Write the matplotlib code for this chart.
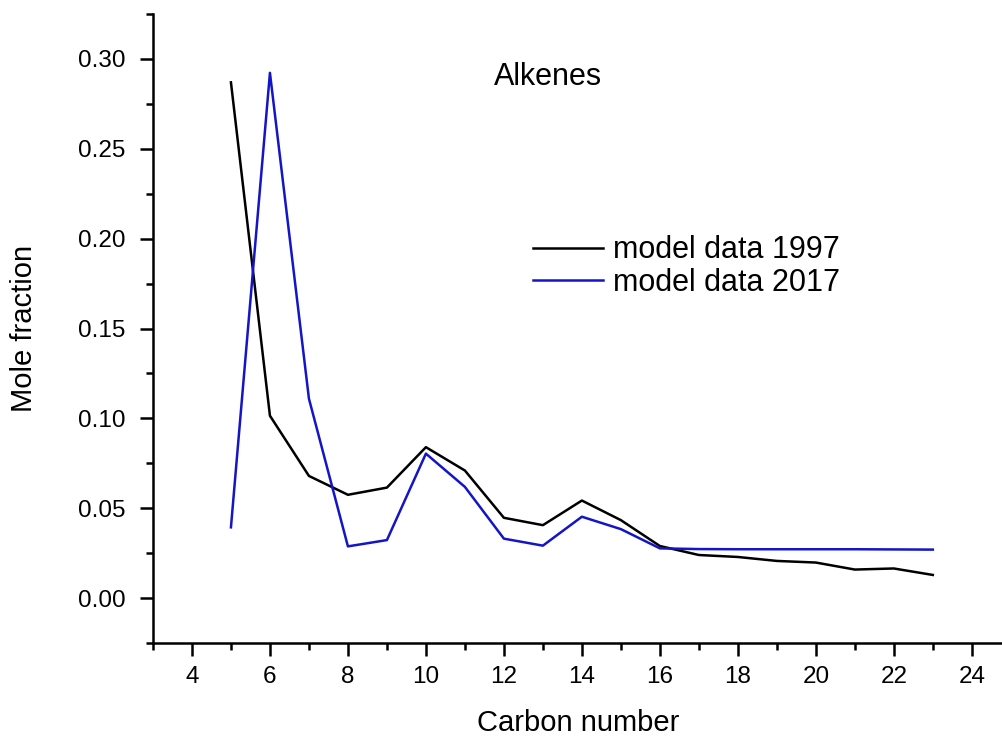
import matplotlib
matplotlib.use("Agg")
import matplotlib.pyplot as plt
from matplotlib.ticker import MultipleLocator

plt.rcParams['font.family'] = ['Liberation Sans', 'DejaVu Sans']

carbon = [5, 6, 7, 8, 9, 10, 11, 12, 13, 14, 15, 16, 17, 18, 19, 20, 21, 22, 23]
data_1997 = [0.287, 0.1015, 0.068, 0.0575, 0.0615, 0.084, 0.071, 0.0447, 0.0406, 0.0543,
             0.0434, 0.029, 0.024, 0.0229, 0.0207, 0.0198, 0.0159, 0.0165, 0.0129]
data_2017 = [0.0394, 0.2923, 0.111, 0.0288, 0.0323, 0.0804, 0.0619, 0.0331, 0.0292, 0.0453,
             0.0384, 0.0277, 0.0273, 0.0272, 0.0272, 0.0272, 0.0272, 0.0271, 0.027]

fig = plt.figure(figsize=(10.03, 7.40), dpi=100)
ax = fig.add_axes([0.1525, 0.131, 0.8475, 0.85])

ax.plot(carbon, data_1997, color='black', lw=1.8, label='model data 1997')
ax.plot(carbon, data_2017, color='#1414c8', lw=1.8, label='model data 2017')

ax.set_xlim(3, 24.8)
ax.set_ylim(-0.025, 0.325)
ax.xaxis.set_major_locator(MultipleLocator(2))
ax.xaxis.set_minor_locator(MultipleLocator(1))
ax.yaxis.set_major_locator(MultipleLocator(0.05))
ax.yaxis.set_minor_locator(MultipleLocator(0.025))
ax.yaxis.set_major_formatter(plt.FuncFormatter(lambda v, p: f"{v:.2f}"))

for s in ['top', 'right']:
    ax.spines[s].set_visible(False)
for s in ['left', 'bottom']:
    ax.spines[s].set_linewidth(1.8)
ax.tick_params(which='major', direction='out', length=9.5, width=1.8, labelsize=17.5)
ax.tick_params(axis='y', which='major', pad=10)
ax.tick_params(axis='x', which='major', pad=7)
ax.tick_params(which='minor', direction='out', length=5, width=1.8)

ax.set_xlabel('Carbon number', fontsize=21)
ax.set_ylabel('Mole fraction', fontsize=21)
ax.xaxis.set_label_coords(0.5, -0.105)
ax.yaxis.set_label_coords(-0.135, 0.5)

ax.text(13.13, 0.29, 'Alkenes', fontsize=22, ha='center', va='center')

ax.legend(loc='upper left', bbox_to_anchor=(0.447, 0.648), frameon=False, fontsize=22,
          handlelength=2.3, handletextpad=0.33, labelspacing=0.08, borderpad=0,
          borderaxespad=0)

fig.savefig('out.png', dpi=100)
